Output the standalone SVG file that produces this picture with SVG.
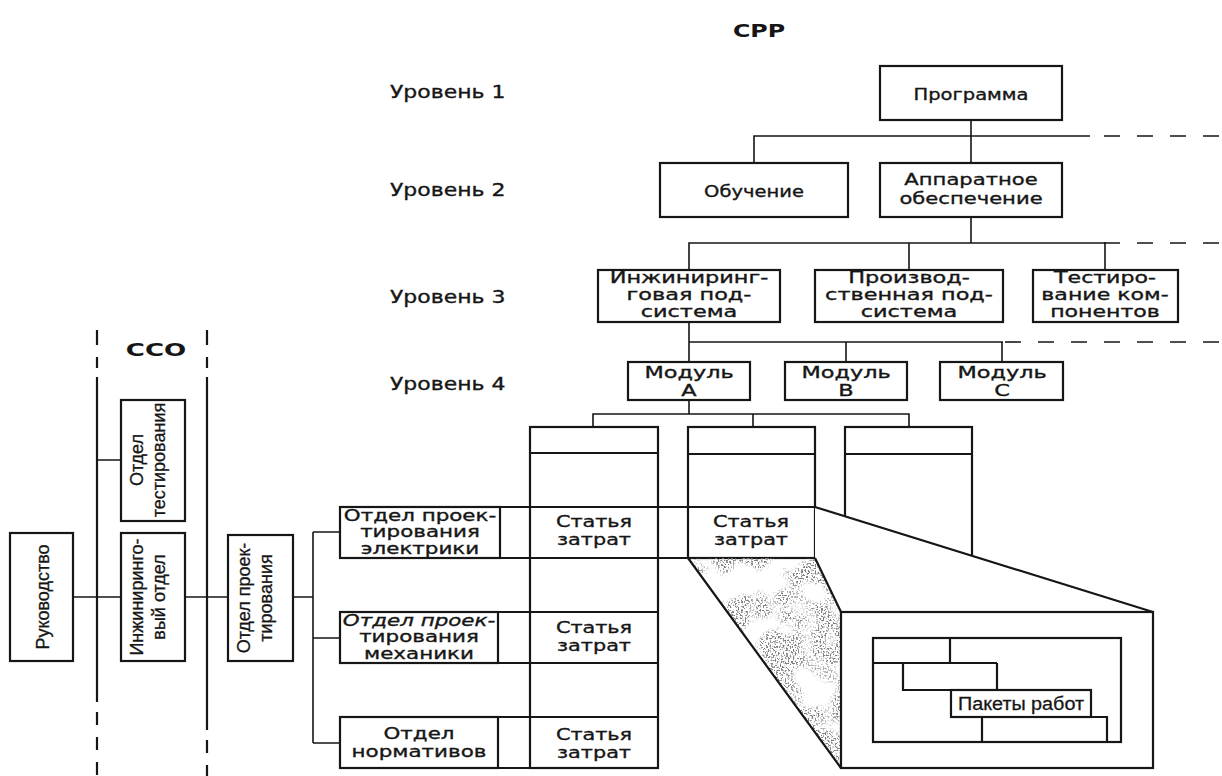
<svg xmlns="http://www.w3.org/2000/svg" width="1222" height="776" viewBox="0 0 1222 776">
<defs>
<style>
.box{fill:#fff;stroke:#161616;stroke-width:2.2}
.ol{fill:none;stroke:#161616;stroke-width:2.2}
.ln{fill:none;stroke:#161616;stroke-width:1.6}
.dh{fill:none;stroke:#161616;stroke-width:1.6;stroke-dasharray:16 17}
.vd{fill:none;stroke:#161616;stroke-width:2.2;stroke-dasharray:13 12}
.w{font-family:"DejaVu Sans",sans-serif;font-size:16px;fill:#161616;stroke:#161616;stroke-width:0.35;text-anchor:middle}
.lv{font-family:"DejaVu Sans",sans-serif;font-size:18px;fill:#161616;stroke:#161616;stroke-width:0.35}
.n{font-family:"Liberation Sans",Arial,sans-serif;font-size:18px;fill:#161616;stroke:#161616;stroke-width:0.3;text-anchor:middle}
.b{font-family:"DejaVu Sans",sans-serif;font-weight:bold;font-size:18px;fill:#161616;text-anchor:middle}
</style>
<filter id="stip" x="0" y="0" width="1" height="1" color-interpolation-filters="sRGB">
<feTurbulence type="fractalNoise" baseFrequency="0.6" numOctaves="1" seed="3" result="n1"/>
<feColorMatrix in="n1" type="matrix" values="0 0 0 0 0.5 0 0 0 0 0.5 0 0 0 0 0.5 9 0 0 0 -4.6" result="f"/>
<feTurbulence type="fractalNoise" baseFrequency="0.03" numOctaves="2" seed="11" result="n2"/>
<feColorMatrix in="n2" type="matrix" values="0 0 0 0 0 0 0 0 0 0 0 0 0 0 0 7 0 0 0 -2.9" result="m"/>
<feComposite in="f" in2="m" operator="in" result="s"/>
<feComposite in="s" in2="SourceAlpha" operator="in"/>
</filter>
</defs>
<rect width="1222" height="776" fill="#fff"/>

<!-- titles and level labels -->
<text class="b" transform="translate(759 0) scale(1.32 1)"><tspan x="0" y="37">СРР</tspan></text>
<text class="b" transform="translate(156 0) scale(1.45 1)"><tspan x="0" y="356">ССО</tspan></text>
<g id="levels">
<text class="lv" transform="translate(390 0) scale(1.22 1)"><tspan x="0" y="98">Уровень 1</tspan></text>
<text class="lv" transform="translate(390 0) scale(1.22 1)"><tspan x="0" y="196">Уровень 2</tspan></text>
<text class="lv" transform="translate(390 0) scale(1.22 1)"><tspan x="0" y="303">Уровень 3</tspan></text>
<text class="lv" transform="translate(390 0) scale(1.22 1)"><tspan x="0" y="390">Уровень 4</tspan></text>
</g>

<g id="connectors">
<path class="ln" d="M971 120V163M754 163V136H1090"/>
<path class="dh" d="M1104 136H1222"/>
<path class="ln" d="M971 217V243M689 270V243H1106M909 243V270M1105 243V270"/>
<path class="dh" d="M1104 243H1222"/>
<path class="ln" d="M689 322V362M689 342H1003M846 342V362M1002 342V362"/>
<path class="dh" d="M1005 342H1222"/>
<path class="ln" d="M689 400V414M593 427V414H909V427M753 414V427"/>
<path class="ln" d="M73 597H121M185 597H228M293 597H313M313 532V743M313 532H340M313 638H340M313 743H340M97 460H121"/>
<path class="ol" d="M97 330V345M97 357V368M97 377V702M207 330V345M207 357V368M207 377V730"/>
<path class="vd" d="M97 712V776M207 740V776"/>
</g>

<!-- cost columns -->
<g id="col1">
<rect class="box" x="530" y="427" width="128" height="341"/>
<path class="ol" d="M530 453H658"/>
</g>
<g id="col2">
<rect class="box" x="688" y="427" width="127" height="131"/>
<path class="ol" d="M688 454H815"/>
</g>
<g id="col3">
<rect class="box" x="845" y="427" width="127" height="180"/>
<path class="ol" d="M845 454H972"/>
</g>

<!-- rows -->
<g id="row-elektr">
<rect class="box" x="340" y="507" width="160" height="51"/>
<path class="ol" d="M500 507H815M500 558H815"/>
<text class="w" font-size="15.5" transform="translate(420 0) scale(1.34 1)"><tspan x="0" y="521">Отдел проек-</tspan><tspan x="0" y="537.5">тирования</tspan><tspan x="0" y="554">электрики</tspan></text>
<text class="w" transform="translate(594 0) scale(1.3 1)"><tspan x="0" y="527">Статья</tspan><tspan x="0" y="545">затрат</tspan></text>
<text class="w" transform="translate(751 0) scale(1.3 1)"><tspan x="0" y="527">Статья</tspan><tspan x="0" y="545">затрат</tspan></text>
</g>
<g id="row-mekh">
<rect class="box" x="340" y="612" width="158" height="51"/>
<path class="ol" d="M498 612H658M498 663H658"/>
<text class="w" font-size="15.5" transform="translate(419 0) scale(1.34 1)"><tspan x="0" y="626" font-style="italic">Отдел проек-</tspan><tspan x="0" y="642.5">тирования</tspan><tspan x="0" y="659">механики</tspan></text>
<text class="w" transform="translate(594 0) scale(1.3 1)"><tspan x="0" y="633">Статья</tspan><tspan x="0" y="651">затрат</tspan></text>
</g>
<g id="row-norm">
<rect class="box" x="340" y="717" width="158" height="51"/>
<path class="ol" d="M498 717H658M498 768H658"/>
<text class="w" transform="translate(419 0) scale(1.34 1)"><tspan x="0" y="739">Отдел</tspan><tspan x="0" y="757">нормативов</tspan></text>
<text class="w" transform="translate(594 0) scale(1.3 1)"><tspan x="0" y="740">Статья</tspan><tspan x="0" y="758">затрат</tspan></text>
</g>

<!-- zoom projection -->
<g id="projection">
<polygon points="815,507 1153,612 841,612 815,558" fill="#fff"/>
<polygon points="688,558 815,558 841,612 841,768" fill="#000" filter="url(#stip)"/>
<path class="ol" d="M815 507L1153 612M815 558L841 612M688 558L841 768"/>
<rect class="box" x="841" y="612" width="312" height="156"/>
<rect class="ol" x="873" y="638" width="248" height="104"/>
<path class="ol" d="M950 638V663M873 663H997M903 663V690H997V663M982 742V717H1107V742"/>
<rect class="ol" x="951" y="690" width="140" height="27"/>
<text class="n" font-size="15" x="1021" y="710" textLength="126" lengthAdjust="spacingAndGlyphs">Пакеты работ</text>
</g>

<!-- tree nodes -->
<g id="programma">
<rect class="box" x="880" y="66" width="182" height="54"/>
<text class="w" font-size="19" transform="translate(971 0) scale(1.22 1)"><tspan x="0" y="100">Программа</tspan></text>
</g>
<g id="obuchenie">
<rect class="box" x="660" y="163" width="188" height="54"/>
<text class="w" font-size="19" transform="translate(754 0) scale(1.22 1)"><tspan x="0" y="197">Обучение</tspan></text>
</g>
<g id="apparatnoe">
<rect class="box" x="880" y="163" width="182" height="54"/>
<text class="w" font-size="17" transform="translate(971 0) scale(1.32 1)"><tspan x="0" y="185">Аппаратное</tspan><tspan x="0" y="204.5">обеспечение</tspan></text>
</g>
<g id="inzh-podsistema">
<rect class="box" x="598" y="270" width="182" height="52"/>
<text class="w" font-size="15.5" transform="translate(689 0) scale(1.4 1)"><tspan x="0" y="283">Инжиниринг-</tspan><tspan x="0" y="300">говая под-</tspan><tspan x="0" y="317">система</tspan></text>
</g>
<g id="proizv-podsistema">
<rect class="box" x="815" y="270" width="188" height="52"/>
<text class="w" font-size="15.5" transform="translate(909 0) scale(1.4 1)"><tspan x="0" y="283">Производ-</tspan><tspan x="0" y="300">ственная под-</tspan><tspan x="0" y="317">система</tspan></text>
</g>
<g id="testirovanie">
<rect class="box" x="1033" y="270" width="145" height="52"/>
<text class="w" font-size="15.5" transform="translate(1105 0) scale(1.38 1)"><tspan x="0" y="283">Тестиро-</tspan><tspan x="0" y="300">вание ком-</tspan><tspan x="0" y="317">понентов</tspan></text>
</g>
<g id="modul-a">
<rect class="box" x="628" y="362" width="122" height="38"/>
<text class="w" transform="translate(689 0) scale(1.4 1)"><tspan x="0" y="378">Модуль</tspan><tspan x="0" y="396">А</tspan></text>
</g>
<g id="modul-b">
<rect class="box" x="785" y="362" width="122" height="38"/>
<text class="w" transform="translate(846 0) scale(1.4 1)"><tspan x="0" y="378">Модуль</tspan><tspan x="0" y="396">В</tspan></text>
</g>
<g id="modul-c">
<rect class="box" x="940" y="362" width="123" height="38"/>
<text class="w" transform="translate(1002 0) scale(1.4 1)"><tspan x="0" y="378">Модуль</tspan><tspan x="0" y="396">С</tspan></text>
</g>

<!-- organisational chart -->
<g id="rukovodstvo">
<rect class="box" x="10" y="533" width="63" height="128"/>
<text class="n" transform="translate(42 597) rotate(-90)"><tspan x="0" y="7">Руководство</tspan></text>
</g>
<g id="otdel-testirovaniya">
<rect class="box" x="121" y="400" width="64" height="121"/>
<text class="n" transform="translate(153 460) rotate(-90)"><tspan x="0" y="-10">Отдел</tspan><tspan x="0" y="12">тестирования</tspan></text>
</g>
<g id="inzh-otdel">
<rect class="box" x="121" y="533" width="64" height="128"/>
<text class="n" transform="translate(153 597) rotate(-90)"><tspan x="0" y="-10">Инжиниринго-</tspan><tspan x="0" y="12">вый отдел</tspan></text>
</g>
<g id="otdel-proektirovaniya">
<rect class="box" x="228" y="535" width="65" height="126"/>
<text class="n" transform="translate(260 598) rotate(-90)"><tspan x="0" y="-10">Отдел проек-</tspan><tspan x="0" y="12">тирования</tspan></text>
</g>
</svg>
